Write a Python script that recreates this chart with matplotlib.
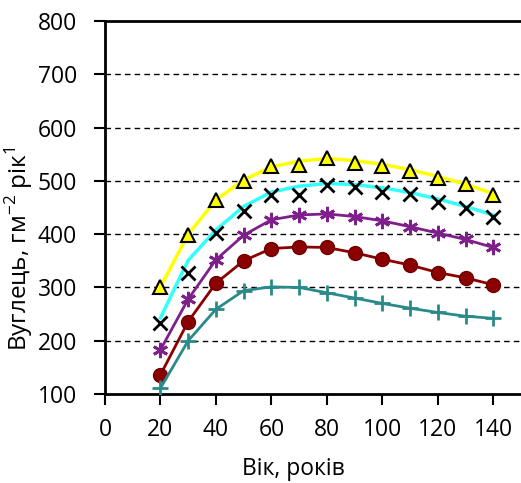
import matplotlib
matplotlib.use("Agg")
import matplotlib.pyplot as plt

plt.rcParams['font.family'] = ['Open Sans', 'DejaVu Sans']
plt.rcParams['mathtext.fontset'] = 'custom'
plt.rcParams['mathtext.rm'] = 'Open Sans'

# вік насадження, років
age = [20, 30, 40, 50, 60, 70, 80, 90, 100, 110, 120, 130, 140]

# виміряні значення вуглецю, г м-2 рік-1
tri_vals = [301, 398, 464, 500, 527, 530, 542, 533, 528, 519, 505, 495, 473]
x_vals = [233, 328, 403, 443, 473, 474, 492, 488, 480, 475, 461, 449, 433]
star_vals = [183, 278, 352, 398, 427, 436, 438, 433, 425, 414, 402, 390, 375]
circ_vals = [136, 236, 308, 350, 373, 376, 375, 365, 353, 342, 328, 318, 305]
plus_vals = [111, 200, 259, 294, 301, 300, 290, 280, 270, 261, 253, 246, 242]

# модельні криві
yellow_line = [301, 400, 464, 502, 526, 537, 542, 538, 531, 521, 508, 494, 476]
cyan_line = [243, 351, 408, 452, 479, 490, 495, 493, 487, 478, 466, 452, 436]

xticks = [0, 20, 40, 60, 80, 100, 120, 140]
yticks = [100, 200, 300, 400, 500, 600, 700, 800]

fig = plt.figure(figsize=(5.21, 4.83), dpi=100)
ax = fig.add_axes([105 / 521, 1 - 394 / 483, 1 - 105 / 521, 373 / 483])

for y in yticks[1:-1]:
    ax.axhline(y, color='black', lw=1, ls=(0, (4, 3)), zorder=1)

ax.plot(age, yellow_line, color='#ffff00', lw=2.5, zorder=2)
ax.plot(age, cyan_line, color='#33ffff', lw=2.5, zorder=2)
ax.plot(age, star_vals, color='#7f1f8c', lw=2, marker=(6, 2, 0), ms=11,
        mew=2, zorder=3)
ax.plot(age, circ_vals, color='#8b0000', lw=2, marker='o', ms=10,
        mec='#6e0000', zorder=3)
ax.plot(age, plus_vals, color='#2a8a8a', lw=2, marker='+', ms=11,
        mew=2, zorder=3)
ax.plot(age, x_vals, ls='none', marker='x', color='black', ms=10, mew=2,
        zorder=4)
ax.plot(age, tri_vals, ls='none', marker='^', mfc='#ffff00', mec='black',
        ms=10, mew=1.5, zorder=4)

ax.set_xlim(0, 150)
ax.set_ylim(100, 800)
ax.set_xticks(xticks)
ax.set_yticks(yticks)
ax.tick_params(axis='both', direction='out', length=8, width=1.5,
               labelsize=16.5, colors='black')
ax.tick_params(axis='y', pad=12)
ax.tick_params(axis='x', pad=9)

for s in ['left', 'bottom', 'top']:
    ax.spines[s].set_linewidth(2)
ax.spines['right'].set_visible(False)

ax.set_xlabel('Вік, років', fontsize=16.5)
ax.xaxis.set_label_coords(0.452, -0.17)
ax.set_ylabel('Вуглець, гм$^{\\mathregular{-2}}$ рік$^{\\mathregular{1}}$',
              fontsize=17.5)
ax.yaxis.set_label_coords(-0.168, 0.39)

fig.savefig('out.png', dpi=100)
